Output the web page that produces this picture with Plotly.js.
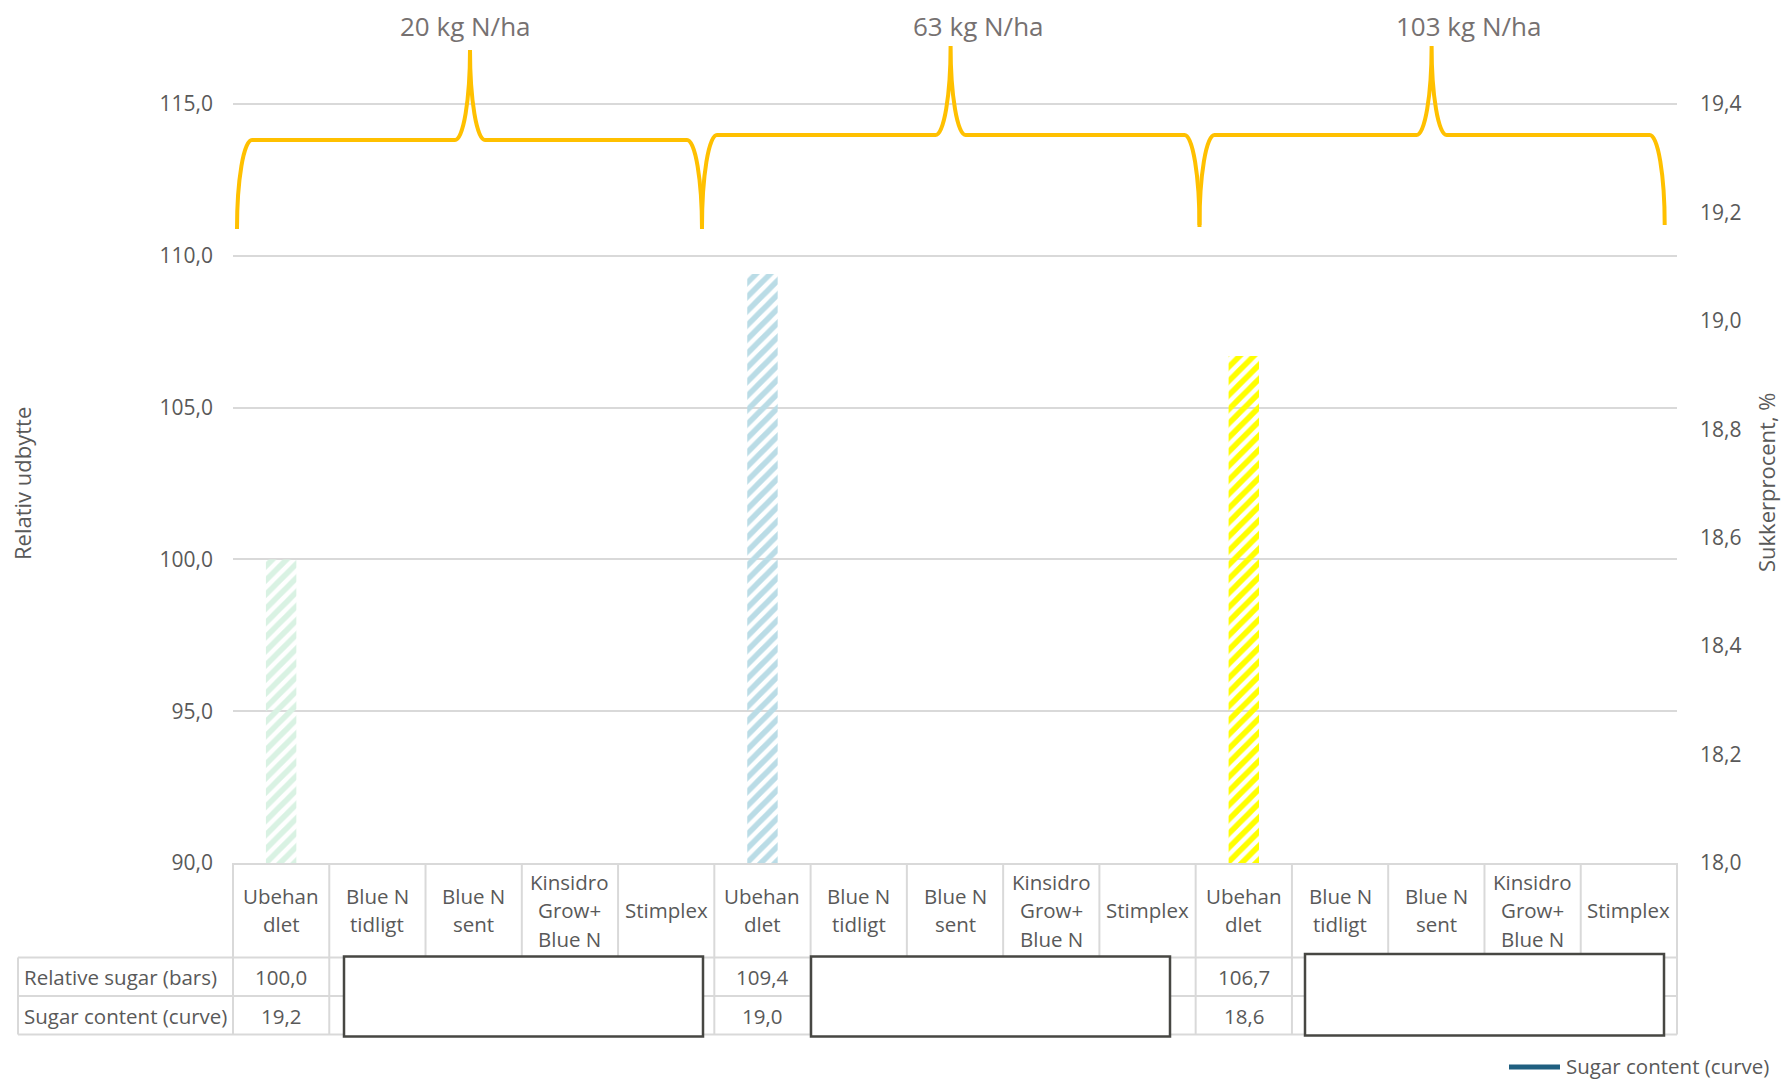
<!DOCTYPE html>
<html>
<head>
<meta charset="utf-8">
<script src="https://cdn.plot.ly/plotly-3.0.1.min.js"></script>
<style>html,body{margin:0;padding:0;background:#fff;}#chart{width:1783px;height:1079px;}</style>
</head>
<body>
<div id="chart"></div>
<script>
// ---------- DATA ----------
const groups = ['20 kg N/ha', '63 kg N/ha', '103 kg N/ha'];
const treatments = ['Ubehan<br>dlet', 'Blue N<br>tidligt', 'Blue N<br>sent', 'Kinsidro<br>Grow+<br>Blue N', 'Stimplex'];
const relativeSugar = [100.0, null, null, null, null, 109.4, null, null, null, null, 106.7, null, null, null, null];
const sugarContent = [19.2, null, null, null, null, 19.0, null, null, null, null, 18.6, null, null, null, null];
const seriesNames = ['Relative sugar (bars)', 'Sugar content (curve)'];
const yLeftTitle = 'Relativ udbytte';
const yRightTitle = 'Sukkerprocent, %';

// ---------- STYLE ----------
const groupBg = ['#d9f2e3', '#badce6', '#ffff00'];
const groupFg = ['#e2d6d0', '#eeeeee', '#c9c4b8'];
const FONT = 'Open Sans, Liberation Sans, sans-serif';
const TXT = '#595959';

const categories = [];
groups.forEach(g => treatments.forEach(t => categories.push(t)));
const xIdx = categories.map((c, i) => i);
const bgArr = xIdx.map(i => groupBg[Math.floor(i / 5)]);
const fgArr = xIdx.map(i => groupFg[Math.floor(i / 5)]);

// pixel geometry helpers
const L = 233, R = 1677, T = 104, B = 863;
const px = x => (x - L) / (R - L);
const py = y => (B - y) / (B - T);
const fmt = v => v.toFixed(1).replace('.', ',');

const traces = [
  {
    type: 'bar', name: seriesNames[0], x: xIdx, y: relativeSugar,
    marker: {
      color: bgArr,
      line: {width: 0},
      pattern: {shape: '/', bgcolor: bgArr, fgcolor: fgArr, size: 10, solidity: 0.55}
    },
    showlegend: false, hoverinfo: 'skip'
  },
  {
    type: 'scatter', mode: 'lines', name: seriesNames[1], x: xIdx, y: sugarContent,
    yaxis: 'y2', connectgaps: false, line: {color: '#1f5f80', width: 5},
    showlegend: false, hoverinfo: 'skip'
  }
];

const shapes = [];
const annotations = [];
const GRID = '#d9d9d9';

// top gridline (115,0)
shapes.push({type: 'line', xref: 'paper', yref: 'paper', x0: 0, x1: 1, y0: 1, y1: 1, line: {color: GRID, width: 2}, layer: 'below'});

// brace shapes
function brace(xL, xC, xR, yB, yH, yT, r, rc) {
  const k = 0.5523;
  const P = (x, y) => px(x).toFixed(5) + ',' + py(y).toFixed(5);
  return 'M' + P(xL, yB) +
    ' C' + P(xL, yB - k * (yB - yH)) + ' ' + P(xL + r - k * r, yH) + ' ' + P(xL + r, yH) +
    ' L' + P(xC - rc, yH) +
    ' C' + P(xC - rc + k * rc, yH) + ' ' + P(xC, yT + k * (yH - yT)) + ' ' + P(xC, yT) +
    ' C' + P(xC, yT + k * (yH - yT)) + ' ' + P(xC + rc - k * rc, yH) + ' ' + P(xC + rc, yH) +
    ' L' + P(xR - r, yH) +
    ' C' + P(xR - r + k * r, yH) + ' ' + P(xR, yB - k * (yB - yH)) + ' ' + P(xR, yB);
}
const braces = [
  [237, 470, 702, 229, 140, 50],
  [702, 950.6, 1199.5, 227, 135, 46],
  [1199.5, 1431.6, 1664.7, 225, 135, 46]
];
braces.forEach(b => shapes.push({
  type: 'path', xref: 'paper', yref: 'paper', path: brace(b[0], b[1], b[2], b[3], b[4], b[5], 15, 15),
  line: {color: '#FFC000', width: 4}
}));
const groupLabelX = [465, 978, 1468];
groups.forEach((g, i) => annotations.push({
  xref: 'paper', yref: 'paper', x: px(groupLabelX[i]), y: py(26), text: g, showarrow: false,
  xanchor: 'center', yanchor: 'middle', font: {family: FONT, size: 26, color: '#767171'}
}));

// data table
const rowY = [863, 957.5, 996, 1034.5];
for (let k = 0; k <= categories.length; k++) {
  shapes.push({type: 'line', xref: 'paper', yref: 'paper', x0: k / categories.length, x1: k / categories.length,
    y0: py(rowY[0]), y1: py(rowY[3]), line: {color: GRID, width: 2}});
}
[1, 2, 3].forEach(r => shapes.push({type: 'line', xref: 'paper', yref: 'paper', x0: px(18), x1: 1,
  y0: py(rowY[r]), y1: py(rowY[r]), line: {color: GRID, width: 2}}));
shapes.push({type: 'line', xref: 'paper', yref: 'paper', x0: px(18), x1: px(18),
  y0: py(rowY[1]), y1: py(rowY[3]), line: {color: GRID, width: 2}});

// covering boxes
const boxes = [[344, 703, 956.5, 1036.5], [811, 1170, 956.5, 1036.5], [1305, 1664, 954, 1035.5]];
boxes.forEach(b => shapes.push({type: 'rect', xref: 'paper', yref: 'paper', x0: px(b[0]), x1: px(b[1]),
  y0: py(b[2]), y1: py(b[3]), fillcolor: '#ffffff', line: {color: '#474743', width: 2.5}}));

// category header (each wrapped line placed separately for Excel-like spacing)
const LINE_H = 28.5;
categories.forEach((c, i) => {
  const lines = c.split('<br>');
  lines.forEach((ln, j) => annotations.push({
    xref: 'x', yref: 'paper', x: i, y: py(910 + (j - (lines.length - 1) / 2) * LINE_H), text: ln, showarrow: false,
    xanchor: 'center', yanchor: 'middle', font: {family: FONT, size: 20.5, color: TXT}
  }));
});
const rowCenters = [977, 1015.5];
[relativeSugar, sugarContent].forEach((arr, r) => {
  annotations.push({xref: 'paper', yref: 'paper', x: px(22), y: py(rowCenters[r]), text: seriesNames[r],
    showarrow: false, xanchor: 'left', yanchor: 'middle', font: {family: FONT, size: 20.5, color: TXT}});
  arr.forEach((v, i) => {
    if (v === null) return;
    annotations.push({xref: 'x', yref: 'paper', x: i, y: py(rowCenters[r]), text: fmt(v), showarrow: false,
      xanchor: 'center', yanchor: 'middle', font: {family: FONT, size: 20.5, color: TXT}});
  });
});

// axis titles
annotations.push({xref: 'paper', yref: 'paper', x: px(22), y: py(484), text: yLeftTitle, textangle: -90,
  showarrow: false, xanchor: 'center', yanchor: 'middle', font: {family: FONT, size: 22, color: TXT}});
annotations.push({xref: 'paper', yref: 'paper', x: px(1766), y: py(482), text: yRightTitle, textangle: -90,
  showarrow: false, xanchor: 'center', yanchor: 'middle', font: {family: FONT, size: 22, color: TXT}});

// legend
shapes.push({type: 'line', xref: 'paper', yref: 'paper', x0: px(1509), x1: px(1560), y0: py(1067), y1: py(1067),
  line: {color: '#1f5f80', width: 5}});
annotations.push({xref: 'paper', yref: 'paper', x: px(1564), y: py(1066), text: seriesNames[1], showarrow: false,
  xanchor: 'left', yanchor: 'middle', font: {family: FONT, size: 20.5, color: TXT}});

const layout = {
  width: 1783, height: 1079,
  margin: {l: L, r: 1783 - R, t: T, b: 1079 - B, pad: 0},
  paper_bgcolor: '#ffffff', plot_bgcolor: '#ffffff',
  separators: ', ',
  showlegend: false,
  bargap: 0.684,
  font: {family: FONT, color: TXT},
  xaxis: {range: [-0.5, categories.length - 0.5], showticklabels: false, ticks: '', showgrid: false,
    zeroline: false, showline: true, linecolor: GRID, linewidth: 2, fixedrange: true},
  yaxis: {range: [90, 115], dtick: 5, tick0: 90, tickformat: '.1f', showgrid: true, gridcolor: GRID, gridwidth: 2,
    zeroline: false, showline: false, ticks: '', ticklabelstandoff: 19,
    tickfont: {family: FONT, size: 21, color: TXT}, fixedrange: true},
  yaxis2: {overlaying: 'y', side: 'right', range: [18, 19.4], dtick: 0.2, tick0: 18, tickformat: '.1f',
    showgrid: false, zeroline: false, showline: false, ticks: '', ticklabelstandoff: 22,
    tickfont: {family: FONT, size: 21, color: TXT}, fixedrange: true},
  shapes: shapes,
  annotations: annotations
};

Plotly.newPlot('chart', traces, layout, {staticPlot: true, displayModeBar: false});
</script>
</body>
</html>
